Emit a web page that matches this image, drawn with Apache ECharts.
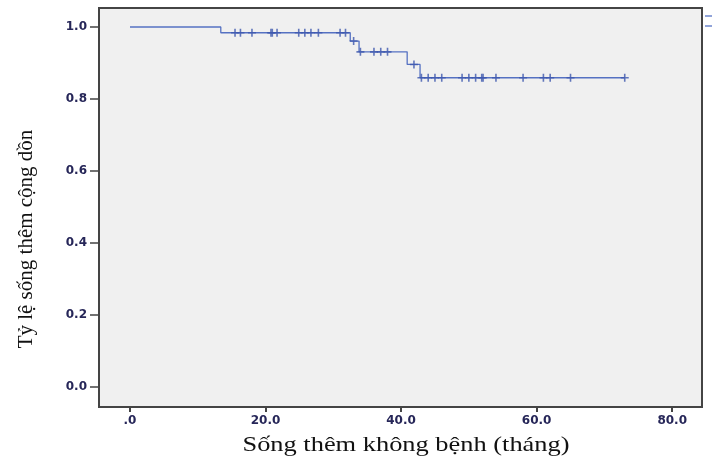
<!DOCTYPE html>
<html><head><meta charset="utf-8">
<script src="https://cdn.jsdelivr.net/npm/echarts@6/dist/echarts.min.js"></script>
<style>html,body{margin:0;padding:0;background:#fff}#c{width:712px;height:461px}</style>
</head><body><div id="c"></div>
<script>
// Kaplan-Meier: event times and survival level after each event
const eventTimes = [0, 13.4, 32.5, 33.8, 40.9, 42.8];
const survival   = [1.0, 0.984, 0.961, 0.931, 0.896, 0.859];
const lastTime = 73.0;
// censored observations (months)
const censorTimes = [15.5, 16.3, 18.0, 20.8, 21.0, 21.7, 24.9, 25.8, 26.7, 27.8, 31.0, 31.8,
  33.0, 34.0, 36.0, 37.0, 38.0, 41.9, 43.0, 44.0, 45.0, 46.0, 49.0, 50.0, 51.0, 51.9, 52.1,
  54.0, 58.0, 61.0, 62.0, 65.0, 73.0];
const xTicks = [0, 20, 40, 60, 80];
const xTickLabels = ['.0', '20.0', '40.0', '60.0', '80.0'];
const yTicks = [0, 0.2, 0.4, 0.6, 0.8, 1.0];
const yTickLabels = ['0.0', '0.2', '0.4', '0.6', '0.8', '1.0'];
const xTitle = 'Sống thêm không bệnh (tháng)';
const yTitle = 'Tỷ lệ sống thêm cộng dồn';

function levelAt(t) {
  let s = survival[0];
  for (let i = 0; i < eventTimes.length; i++) if (eventTimes[i] <= t) s = survival[i];
  return s;
}
const lineData = eventTimes.map((t, i) => [t, survival[i]]);
lineData.push([lastTime, survival[survival.length - 1]]);
const censorData = censorTimes.map(t => [t, levelAt(t)]);

function lab(ticks, labels) {
  return v => { const i = ticks.findIndex(t => Math.abs(t - v) < 1e-6); return i >= 0 ? labels[i] : ''; };
}
const labelStyle = { fontFamily: 'DejaVu Sans', fontWeight: 'bold', fontSize: 12, color: '#262658' };

const chart = echarts.init(document.getElementById('c'), null, { renderer: 'canvas' });
chart.setOption({
  animation: false,
  backgroundColor: '#ffffff',
  grid: { left: 99, right: 10, top: 8, bottom: 54, show: true, backgroundColor: '#f0f0f0',
          borderColor: '#444444', borderWidth: 2 },
  xAxis: {
    type: 'value', min: -4.57, max: 84.4,
    axisLine: { show: false, onZero: false },
    splitLine: { show: false },
    axisTick: { show: true, length: 5, customValues: xTicks, lineStyle: { color: '#444', width: 2 } },
    axisLabel: Object.assign({ customValues: xTicks, margin: 8, formatter: lab(xTicks, xTickLabels) }, labelStyle)
  },
  yAxis: {
    type: 'value', min: -0.0556, max: 1.0528,
    axisLine: { show: false, onZero: false },
    splitLine: { show: false },
    axisTick: { show: true, length: 9, customValues: yTicks, lineStyle: { color: '#444', width: 1.5 } },
    axisLabel: Object.assign({ customValues: yTicks, margin: 12, formatter: lab(yTicks, yTickLabels) }, labelStyle)
  },
  series: [
    { type: 'line', step: 'end', data: lineData, symbol: 'none',
      lineStyle: { color: '#5571c2', width: 1.3 }, z: 2 },
    { type: 'scatter', data: censorData,
      symbol: 'path://M4,0h2v4h4v2h-4v4h-2v-4h-4v-2h4z', symbolSize: 8,
      itemStyle: { color: '#3d57ae' }, z: 3 }
  ],
  graphic: [
    { type: 'text', x: 406, y: 456, scaleX: 1.2,
      style: { text: xTitle, font: '22px "Liberation Serif"', fill: '#111', textAlign: 'center', textVerticalAlign: 'bottom' } },
    { type: 'text', x: 26, y: 239, rotation: Math.PI / 2,
      style: { text: yTitle, font: '21px "Liberation Serif"', fill: '#111', textAlign: 'center', textVerticalAlign: 'middle' } },
    { type: 'line', shape: { x1: 705, y1: 16, x2: 712, y2: 16 }, style: { stroke: '#6d86cc', lineWidth: 1.5 } },
    { type: 'line', shape: { x1: 705, y1: 26, x2: 712, y2: 26 }, style: { stroke: '#6d86cc', lineWidth: 1.5 } }
  ]
});
</script></body></html>
